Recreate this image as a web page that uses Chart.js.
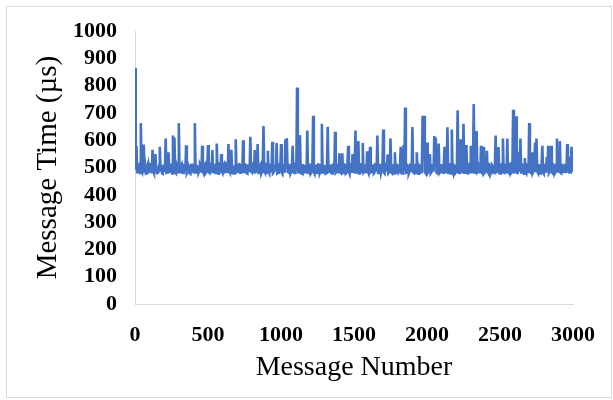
<!DOCTYPE html>
<html lang="en">

<head>
    <meta charset="UTF-8">
    <script src="https://cdn.jsdelivr.net/npm/chart.js"></script>
    <title>Message Time</title>
    <style>
        body { margin: 0; background: #fff; }
        .moldura {
            position: absolute;
            left: 6px; top: 6px;
            width: 604px; height: 390px;
            border: 1px solid #d9d9d9;
        }
        .grafico { position: absolute; left: 0; top: 0; width: 613px; height: 400px; }
    </style>
</head>

<body>
    <div class="moldura"></div>
    <div class="grafico">
        <canvas id="msgChart" width="613" height="400"></canvas>
    </div>

    <script>
        // sampled every 5 messages (message number = index * step)
        const step = 5;
        const messageTime = [
            865, 492, 580, 483, 484, 508, 512, 480, 663, 486, 481, 510, 585, 482, 505, 478, 479, 507, 516, 484,
            486, 511, 509, 479, 565, 487, 480, 506, 550, 483, 502, 481, 483, 509, 576, 485, 511, 480, 478, 504,
            507, 484, 607, 481, 482, 510, 556, 486, 485, 507, 510, 479, 618, 488, 610, 482, 479, 512, 504, 483,
            663, 485, 483, 506, 512, 481, 480, 509, 508, 484, 582, 480, 486, 510, 503, 479, 477, 508, 515, 486,
            484, 510, 663, 483, 482, 507, 509, 480, 487, 512, 506, 482, 580, 485, 479, 509, 513, 481, 485, 506,
            583, 484, 481, 511, 507, 479, 564, 486, 484, 508, 510, 480, 588, 483, 478, 510, 505, 482, 550, 485,
            480, 507, 512, 484, 486, 509, 503, 480, 586, 487, 482, 511, 565, 481, 508, 479, 479, 506, 604, 484,
            487, 510, 511, 482, 481, 508, 506, 479, 600, 485, 484, 512, 513, 480, 478, 507, 509, 483, 613, 486,
            483, 509, 504, 480, 564, 484, 486, 510, 586, 481, 480, 506, 511, 478, 485, 508, 652, 487, 482, 511,
            507, 481, 562, 485, 479, 509, 514, 482, 595, 480, 484, 507, 506, 486, 590, 479, 481, 512, 510, 483,
            586, 482, 477, 508, 509, 481, 604, 530, 608, 485, 483, 510, 512, 479, 486, 507, 580, 484, 480, 509,
            505, 487, 794, 483, 484, 511, 619, 480, 479, 508, 513, 482, 487, 506, 508, 478, 636, 485, 482, 510,
            510, 480, 485, 509, 690, 484, 478, 507, 507, 481, 481, 512, 514, 479, 486, 508, 661, 482, 483, 506,
            509, 478, 480, 510, 650, 486, 485, 507, 506, 480, 479, 511, 512, 483, 631, 481, 484, 509, 508, 479,
            552, 484, 481, 508, 552, 480, 487, 511, 510, 479, 482, 507, 580, 486, 478, 509, 505, 481, 550, 485,
            483, 510, 636, 482, 486, 508, 597, 479, 480, 512, 511, 484, 590, 481, 484, 506, 507, 480, 560, 486,
            479, 511, 576, 483, 485, 507, 512, 478, 481, 509, 506, 485, 618, 480, 487, 510, 509, 482, 482, 508,
            640, 481, 478, 509, 513, 486, 548, 480, 484, 511, 607, 483, 480, 507, 508, 479, 556, 484, 483, 510,
            511, 482, 486, 508, 576, 480, 479, 510, 583, 487, 720, 481, 482, 509, 506, 478, 485, 511, 512, 484,
            649, 483, 481, 507, 509, 480, 556, 485, 478, 510, 507, 482, 484, 508, 690, 560, 690, 484, 480, 509,
            592, 481, 486, 510, 550, 479, 483, 508, 511, 485, 616, 540, 610, 482, 479, 511, 588, 480, 484, 507,
            508, 483, 481, 509, 576, 484, 487, 506, 648, 480, 482, 512, 510, 479, 640, 486, 478, 508, 505, 481,
            485, 509, 710, 482, 480, 511, 604, 485, 484, 507, 661, 481, 486, 510, 583, 480, 479, 508, 512, 483,
            580, 486, 483, 510, 733, 484, 481, 508, 634, 482, 485, 511, 507, 479, 580, 483, 478, 509, 576, 481,
            484, 507, 562, 485, 480, 512, 510, 478, 486, 509, 505, 481, 482, 510, 618, 484, 487, 506, 575, 480,
            479, 508, 511, 482, 607, 486, 483, 509, 508, 479, 607, 484, 481, 511, 513, 480, 485, 507, 712, 483,
            484, 510, 688, 481, 480, 508, 556, 485, 607, 482, 486, 509, 506, 478, 535, 484, 479, 511, 510, 480,
            663, 485, 482, 507, 556, 481, 487, 510, 592, 483, 607, 486, 481, 509, 508, 479, 484, 512, 580, 482,
            478, 509, 510, 481, 540, 484, 580, 480, 485, 508, 580, 483, 480, 511, 507, 478, 483, 510, 607, 486,
            486, 508, 597, 481, 479, 510, 511, 484, 484, 507, 505, 480, 586, 485, 540, 482, 482, 509, 576, 484,
            517
        ];
        const xTicks = [0, 500, 1000, 1500, 2000, 2500, 3000];
        const yTicks = [0, 100, 200, 300, 400, 500, 600, 700, 800, 900, 1000];

        const pontos = messageTime.map((v, i) => ({ x: i * step, y: v }));

        const ctx = document.getElementById('msgChart').getContext('2d');
        new Chart(ctx, {
            type: 'line',
            data: {
                datasets: [{
                    data: pontos,
                    borderColor: '#4472C4',
                    borderWidth: 2.6,
                    pointRadius: 0,
                    tension: 0,
                    fill: false
                }]
            },
            options: {
                responsive: false,
                animation: false,
                layout: { padding: { left: 0, right: 40, top: 29, bottom: 0 } },
                plugins: { legend: { display: false }, tooltip: { enabled: false } },
                scales: {
                    x: {
                        type: 'linear',
                        min: 0,
                        max: 3000,
                        afterBuildTicks: (s) => { s.ticks = xTicks.map(v => ({ value: v })); },
                        afterFit: (s) => { s.height = 96; },
                        grid: { display: false, drawTicks: false },
                        border: { display: true, color: '#d9d9d9', width: 1 },
                        ticks: {
                            color: '#000',
                            padding: 18,
                            maxRotation: 0,
                            autoSkip: false,
                            callback: (v) => String(v),
                            font: { family: 'Liberation Serif', size: 22, weight: 'bold' }
                        },
                        title: {
                            display: true,
                            text: 'Message Number',
                            color: '#000',
                            padding: { top: 0, bottom: 16 },
                            font: { family: 'Liberation Serif', size: 28 }
                        }
                    },
                    y: {
                        min: 0,
                        max: 1000,
                        afterBuildTicks: (s) => { s.ticks = yTicks.map(v => ({ value: v })); },
                        afterFit: (s) => { s.width = 135; },
                        grid: { display: false, drawTicks: false },
                        border: { display: true, color: '#d9d9d9', width: 1 },
                        ticks: {
                            color: '#000',
                            padding: 18,
                            autoSkip: false,
                            callback: (v) => String(v),
                            font: { family: 'Liberation Serif', size: 22, weight: 'bold' }
                        },
                        title: {
                            display: true,
                            text: 'Message Time (µs)',
                            color: '#000',
                            padding: { top: 31, bottom: 0 },
                            font: { family: 'Liberation Serif', size: 29 }
                        }
                    }
                }
            }
        });
    </script>
</body>

</html>
